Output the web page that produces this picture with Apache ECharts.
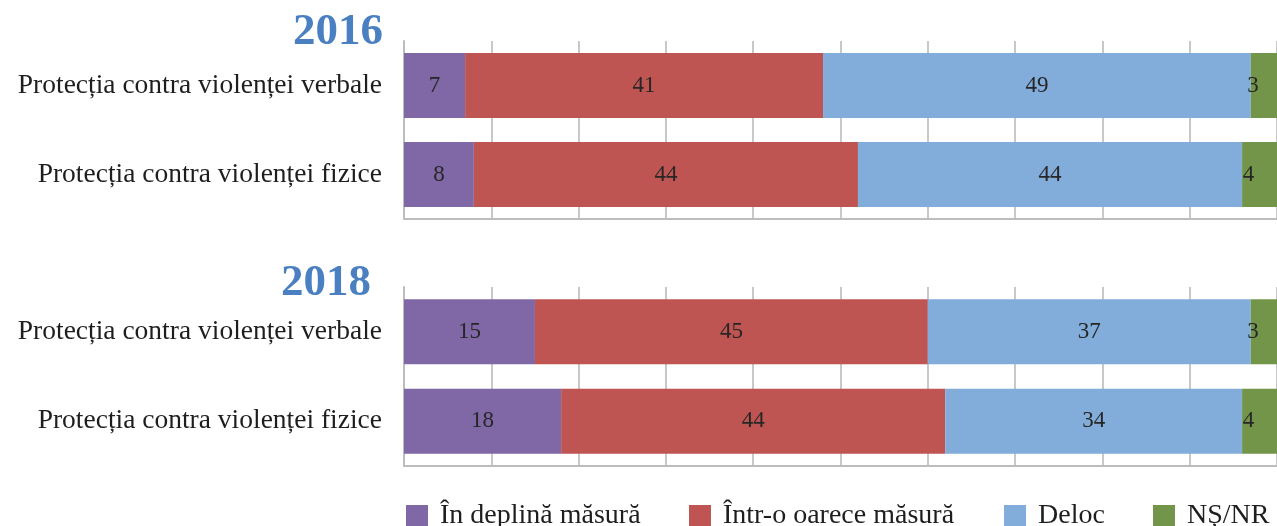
<!DOCTYPE html>
<html>
<head>
<meta charset="utf-8">
<script src="https://cdn.jsdelivr.net/npm/echarts@6/dist/echarts.min.js"></script>
<style>
  html, body { margin: 0; padding: 0; background: #fff; }
  #chart { width: 1277px; height: 526px; }
</style>
</head>
<body>
<div id="chart"></div>
<script>
const years = ["2016", "2018"];
const categories = ["Protecția contra violenței verbale", "Protecția contra violenței fizice"];
const seriesNames = ["În deplină măsură", "Într-o oarece măsură", "Deloc", "NȘ/NR"];
// values per year, one array per answer, in category order
const deplina2016 = [7, 8];
const oarecare2016 = [41, 44];
const deloc2016 = [49, 44];
const nsnr2016 = [3, 4];
const deplina2018 = [15, 18];
const oarecare2018 = [45, 44];
const deloc2018 = [37, 34];
const nsnr2018 = [3, 4];
const xTicks = { min: 0, max: 100, interval: 10 };

const colors = ["#7f68a5", "#bf5552", "#82acda", "#73954a"];
const serif = "'Liberation Serif', 'DejaVu Serif', serif";

const data = [
  [deplina2016, oarecare2016, deloc2016, nsnr2016],
  [deplina2018, oarecare2018, deloc2018, nsnr2018],
];

const grids = [
  { left: 404, right: 0, top: 41, height: 178 },
  { left: 404, right: 0, top: 287, height: 179 },
];

const series = [];
data.forEach((yearData, gi) => {
  yearData.forEach((vals, si) => {
    series.push({
      name: seriesNames[si],
      type: "bar",
      stack: "y" + gi,
      xAxisIndex: gi,
      yAxisIndex: gi,
      barWidth: 65,
      itemStyle: { color: colors[si] },
      label: {
        show: true,
        position: "inside",
        offset: si === 3 ? [-11, 0] : [0, 0],
        fontFamily: serif,
        fontSize: 23,
        color: "#262626",
      },
      data: vals,
    });
  });
});

const legendLeft = [401, 684, 999, 1148];

const chart = echarts.init(document.getElementById("chart"));
chart.setOption({
  animation: false,
  title: years.map((y, i) => ({
    text: y,
    right: i === 0 ? 889 : 901,
    top: i === 0 ? 5 : 256,
    textStyle: {
      fontFamily: serif,
      fontWeight: "bold",
      fontSize: 45,
      color: "#4a7fc1",
    },
  })),
  grid: grids,
  xAxis: grids.map((g, i) => ({
    type: "value",
    gridIndex: i,
    min: xTicks.min,
    max: xTicks.max,
    interval: xTicks.interval,
    axisLabel: { show: false },
    axisTick: { show: false },
    axisLine: { show: true, lineStyle: { color: "#bdbdbd", width: 2 } },
    splitLine: { show: true, lineStyle: { color: "#c8c8c8", width: 2 } },
  })),
  yAxis: grids.map((g, i) => ({
    type: "category",
    gridIndex: i,
    inverse: true,
    data: categories,
    axisTick: { show: false },
    axisLine: { show: true, lineStyle: { color: "#bdbdbd", width: 2 } },
    axisLabel: {
      margin: 22,
      fontFamily: serif,
      fontSize: 27.5,
      color: "#1e1e1e",
    },
  })),
  legend: seriesNames.map((n, i) => ({
    data: [n],
    left: legendLeft[i],
    top: 497,
    icon: "rect",
    itemWidth: 22,
    itemHeight: 22,
    textStyle: {
      fontFamily: serif,
      fontSize: 28,
      color: "#1e1e1e",
      padding: [0, 0, 0, 7],
    },
  })),
  series: series,
});
</script>
</body>
</html>
